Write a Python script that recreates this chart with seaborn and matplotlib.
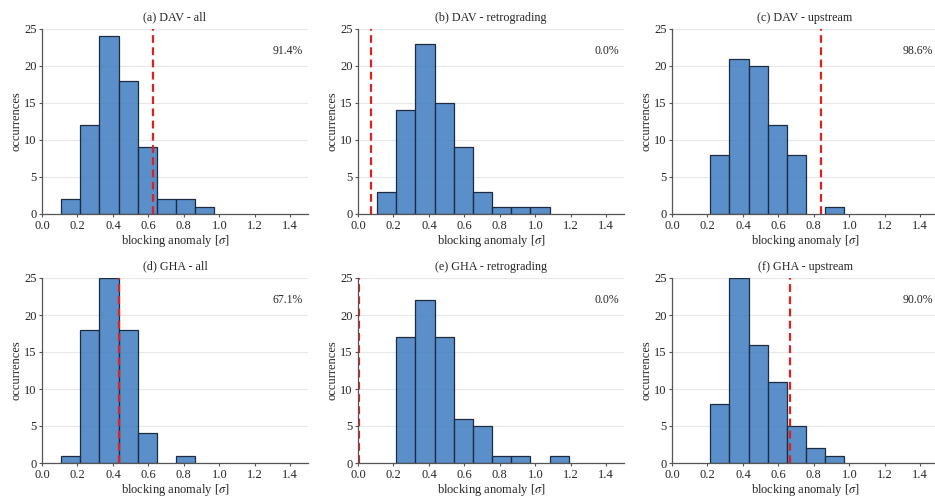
import numpy as np
import pandas as pd
import matplotlib
matplotlib.use("Agg")
import matplotlib.pyplot as plt
import seaborn as sns

# Histogram bin edges shared by all panels (blocking anomaly, in sigma)
bin_edges = [0.108, 0.216, 0.324, 0.432, 0.540, 0.648, 0.756, 0.864, 0.972, 1.080, 1.188]

titles = ["(a) DAV - all", "(b) DAV - retrograding", "(c) DAV - upstream",
          "(d) GHA - all", "(e) GHA - retrograding", "(f) GHA - upstream"]

# Occurrences per bin for each panel
counts_dav_all = [2, 12, 24, 18, 9, 2, 2, 1, 0, 0]
counts_dav_retro = [3, 14, 23, 15, 9, 3, 1, 1, 1, 0]
counts_dav_up = [0, 8, 21, 20, 12, 8, 0, 1, 0, 0]
counts_gha_all = [1, 18, 25, 18, 4, 0, 1, 0, 0, 0]
counts_gha_retro = [0, 17, 22, 17, 6, 5, 1, 1, 0, 1]
counts_gha_up = [0, 8, 25, 16, 11, 5, 2, 1, 0, 0]

# Reference event anomaly (red dashed line) and percentile label
event_values = [0.625, 0.076, 0.840, 0.435, 0.005, 0.667]
percent_labels = ["91.4%", "0.0%", "98.6%", "67.1%", "0.0%", "90.0%"]

all_counts = [counts_dav_all, counts_dav_retro, counts_dav_up,
              counts_gha_all, counts_gha_retro, counts_gha_up]

sns.set_theme(style="white")
plt.rcParams["font.family"] = ["Liberation Serif", "DejaVu Serif"]
plt.rcParams["mathtext.fontset"] = "stix"

fig = plt.figure(figsize=(9.35, 4.97), dpi=100)
W, H = 935, 497
lefts = [42, 358, 672]
tops = [29, 278]
aw, ah = 266, 185

edges = np.array(bin_edges)
centers = (edges[:-1] + edges[1:]) / 2

for i, (title, counts) in enumerate(zip(titles, all_counts)):
    r, c = divmod(i, 3)
    ax = fig.add_axes([lefts[c] / W, 1 - (tops[r] + ah) / H, aw / W, ah / H])
    df = pd.DataFrame({"anomaly": centers, "n": counts})
    sns.histplot(data=df, x="anomaly", weights="n", bins=list(bin_edges), ax=ax,
                 color="#3d7cc0", alpha=0.85, edgecolor="#1c2b3f", linewidth=0.9)
    # empty bins leave no outline on the axis
    for p in ax.patches:
        if p.get_height() == 0:
            p.set_visible(False)
    ax.axvline(event_values[i], color="#e0201f", linestyle=(0, (3.5, 2)), linewidth=1.6)
    ax.set_xlim(0, 1.5)
    ax.set_ylim(0, 25)
    ax.set_xticks([0.0, 0.2, 0.4, 0.6, 0.8, 1.0, 1.2, 1.4])
    ax.set_yticks([0, 5, 10, 15, 20, 25])
    ax.yaxis.grid(True, color="#e8e8e8", linewidth=0.8)
    ax.set_axisbelow(True)
    for s in ["top", "right"]:
        ax.spines[s].set_visible(False)
    for s in ["left", "bottom"]:
        ax.spines[s].set_color("#555555")
        ax.spines[s].set_linewidth(0.9)
    ax.tick_params(axis="both", labelsize=9, length=2.5, width=0.8,
                   color="#555555", pad=1.5, bottom=True, left=True)
    ax.set_xlabel(r"blocking anomaly [$\sigma$]", fontsize=9, labelpad=1)
    ax.set_ylabel("occurrences", fontsize=9, labelpad=1)
    ax.set_title(title, fontsize=8.7, pad=6)
    ax.text(0.98, 0.88, percent_labels[i], transform=ax.transAxes,
            ha="right", va="center", fontsize=8.5)

fig.savefig("out.png", dpi=100)
